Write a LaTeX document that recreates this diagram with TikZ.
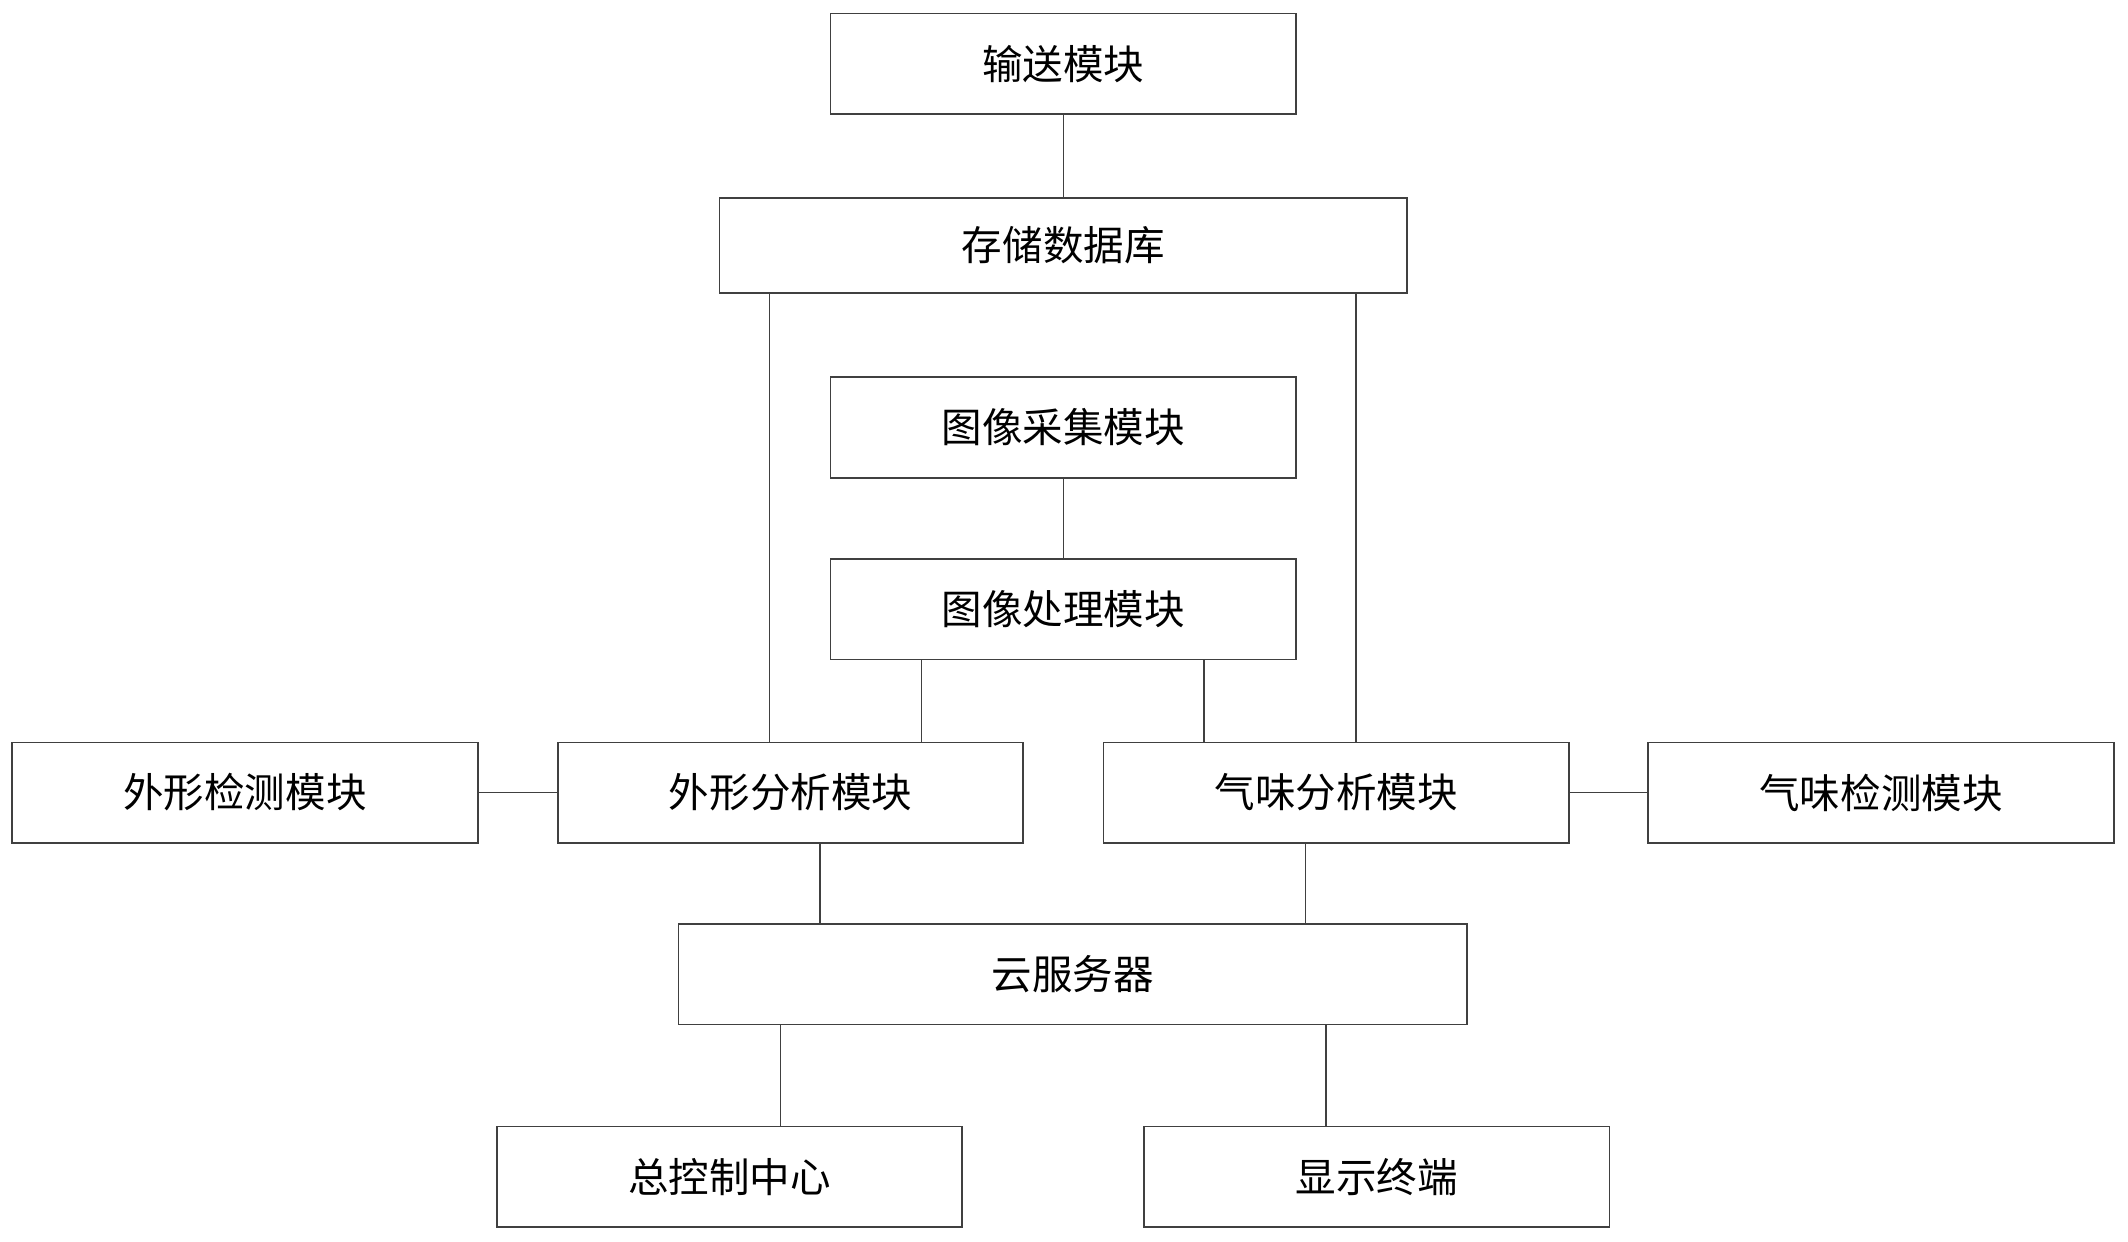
\documentclass[tikz,border=0pt]{standalone}
\usepackage{fontspec}
\newfontfamily\cjk{Noto Sans CJK SC}
\tikzset{box/.style={draw=black!75,line width=0.7pt,minimum width=6.86cm,minimum height=1.48cm,inner sep=0pt,font=\cjk\fontsize{17}{17}\selectfont},
  link/.style={draw=black!75,line width=0.7pt}}
\begin{document}
\begin{tikzpicture}[x=0.02cm,y=-0.02cm]
  \useasboundingbox (0,0) rectangle (1568,915);
  \node[box] (conv) at (783.5,47) {输送模块};
  \node[box,minimum width=10.14cm,minimum height=1.4cm] (store) at (783.5,181) {存储数据库};
  \node[box] (capt) at (783.5,315) {图像采集模块};
  \node[box] (proc) at (783.5,449) {图像处理模块};
  \node[box] (shdet) at (180.5,584) {外形检测模块};
  \node[box] (shana) at (582.5,584) {外形分析模块};
  \node[box] (odana) at (984.5,584) {气味分析模块};
  \node[box] (oddet) at (1386,584) {气味检测模块};
  \node[box,minimum width=11.62cm] (cloud) at (790.5,718) {云服务器};
  \node[box] (ctrl) at (537.5,867) {总控制中心};
  \node[box] (disp) at (1014.5,867) {显示终端};
  % vertical guides
  \coordinate (g1) at (567,0);
  \coordinate (g2) at (999,0);
  \coordinate (g3) at (679,0);
  \coordinate (g4) at (887,0);
  \coordinate (g5) at (604,0);
  \coordinate (g6) at (962,0);
  \coordinate (g7) at (575,0);
  \coordinate (g8) at (977,0);
  \draw[link] (conv) -- (store);
  \draw[link] (store.south -| g1) -- (shana.north -| g1);
  \draw[link] (store.south -| g2) -- (odana.north -| g2);
  \draw[link] (capt) -- (proc);
  \draw[link] (proc.south -| g3) -- (shana.north -| g3);
  \draw[link] (proc.south -| g4) -- (odana.north -| g4);
  \draw[link] (shdet) -- (shana);
  \draw[link] (odana) -- (oddet);
  \draw[link] (shana.south -| g5) -- (cloud.north -| g5);
  \draw[link] (odana.south -| g6) -- (cloud.north -| g6);
  \draw[link] (cloud.south -| g7) -- (ctrl.north -| g7);
  \draw[link] (cloud.south -| g8) -- (disp.north -| g8);
\end{tikzpicture}
\end{document}
